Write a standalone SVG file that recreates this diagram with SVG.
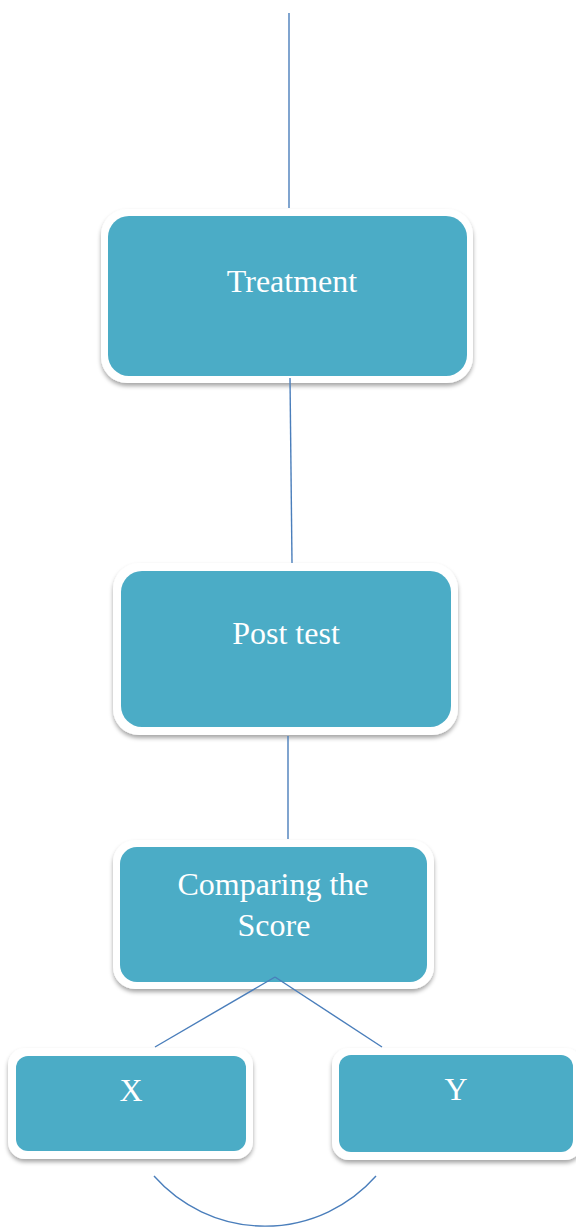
<svg xmlns="http://www.w3.org/2000/svg" width="576" height="1228" viewBox="0 0 576 1228">
<defs>
<filter id="sh" x="-10%" y="-10%" width="120%" height="130%">
<feDropShadow dx="0" dy="3" stdDeviation="2.2" flood-color="#000" flood-opacity="0.35"/>
</filter>
<style>
.outer{fill:#ffffff;filter:url(#sh)}
.inner{fill:#4bacc6}
.lbl{fill:#ffffff;font-family:"Liberation Serif","Times New Roman",serif;font-size:32px;text-anchor:middle}
.con{stroke:#4a7ebb;stroke-width:1.4;fill:none}
</style>
</defs>
<rect width="576" height="1228" fill="#ffffff"/>
<g id="treatment">
<rect class="outer" x="101" y="209" width="372" height="174" rx="26"/>
<rect class="inner" x="108" y="216" width="359" height="160" rx="21"/>
<text class="lbl" x="292" y="292">Treatment</text>
</g>
<g id="posttest">
<rect class="outer" x="113" y="563" width="345" height="172" rx="26"/>
<rect class="inner" x="121" y="571" width="330" height="156" rx="21"/>
<text class="lbl" x="286" y="644">Post test</text>
</g>
<g id="comparing">
<rect class="outer" x="113" y="840" width="321" height="149" rx="22"/>
<rect class="inner" x="120" y="847" width="307" height="135" rx="17"/>
<text class="lbl" x="273" y="895">Comparing the</text>
<text class="lbl" x="274" y="936">Score</text>
</g>
<g id="x">
<rect class="outer" x="8" y="1048" width="245" height="111" rx="17"/>
<rect class="inner" x="16" y="1056" width="230" height="95" rx="12"/>
<text class="lbl" x="131" y="1101">X</text>
</g>
<g id="y">
<rect class="outer" x="332" y="1048" width="250" height="112" rx="17"/>
<rect class="inner" x="339" y="1055" width="234" height="97" rx="12"/>
<text class="lbl" x="456" y="1100">Y</text>
</g>
<g id="connectors">
<line class="con" x1="289" y1="13" x2="289" y2="208"/>
<line class="con" x1="290" y1="378" x2="292" y2="563"/>
<line class="con" x1="288" y1="736" x2="288" y2="839"/>
<line class="con" x1="275" y1="977" x2="155" y2="1047"/>
<line class="con" x1="275" y1="977" x2="382" y2="1047"/>
<path class="con" d="M154,1176 A148,148 0 0 0 376,1176"/>
</g>
</svg>
